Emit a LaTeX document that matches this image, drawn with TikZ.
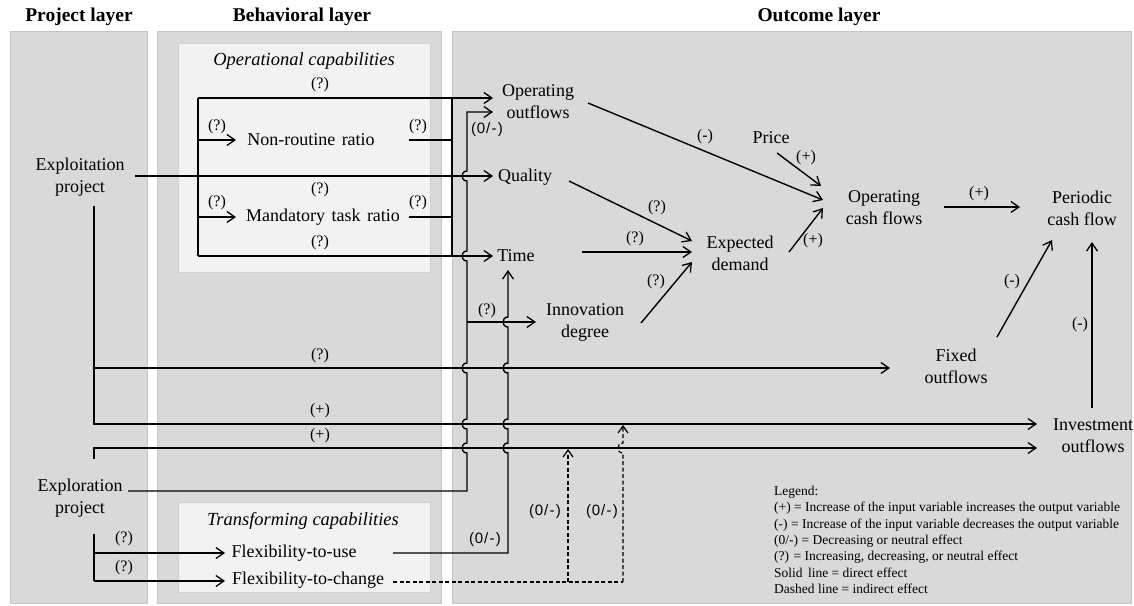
\documentclass[tikz,border=0pt]{standalone}
\usepackage{fontspec}
\setmainfont{Liberation Serif}
\newfontfamily\labsans{Liberation Sans}
\usetikzlibrary{arrows.meta}
\definecolor{panelfill}{HTML}{D9D9D9}
\definecolor{panelline}{HTML}{C4C4C4}
\definecolor{boxfill}{HTML}{F2F2F2}
\definecolor{boxline}{HTML}{D0D0D0}
\newcommand\zmlabel{(\kern0.8pt0\kern0.8pt/\kern1.3pt-\kern1.3pt)}
\begin{document}
\begin{tikzpicture}[x=1pt,y=-1pt,
  ln/.style={line width=1.4pt},
  arr/.style={ln,-{Straight Barb[length=8pt,width=11pt,line width=1.3pt]}},
  dsh/.style={line width=1.2pt,dash pattern=on 4pt off 2.5pt},
  darr/.style={dsh,-{Straight Barb[length=7pt,width=10pt,line width=1.2pt]}},
  nd/.style={font=\fontsize{18}{22}\selectfont,align=center,inner sep=0pt},
  ttl/.style={font=\bfseries\fontsize{19.5}{22}\selectfont,inner sep=0pt},
  captitle/.style={font=\itshape\fontsize{18.5}{22}\selectfont,inner sep=0pt},
  lab/.style={font=\fontsize{16}{17}\selectfont,inner sep=0pt},
  zl/.style={font=\labsans\fontsize{15}{17}\selectfont,inner sep=0pt},
  panel/.style={fill=panelfill,draw=panelline,line width=1pt},
  capbox/.style={fill=boxfill,draw=boxline,line width=1pt}]
\useasboundingbox (0,0) rectangle (1134,605);
% panels
\draw[panel] (10,31) rectangle (147,603);
\draw[panel] (157,31) rectangle (441,603);
\draw[panel] (452,31) rectangle (1131,603);
\draw[capbox] (178,43) rectangle (430,272);
\draw[capbox] (178,502) rectangle (430,592);
% titles
\node[ttl] (t1) at (79,17) {Project layer};
\node[ttl] (t2) at (302,17) {Behavioral layer};
\node[ttl] (t3) at (819,17) {Outcome layer};
\node[captitle] (oc) at (304,61) {Operational capabilities};
\node[captitle] (tc) at (303,521) {Transforming capabilities};
% nodes
\node[nd] (exploit) at (80,177) {Exploitation\\project};
\node[nd] (explore) at (80,498) {Exploration\\project};
\node[nd] (nr) at (311,140) {Non-routine\kern2pt\ ratio};
\node[nd] (mtr) at (323,217) {Mandatory\kern2pt\ task\kern2pt\ ratio};
\node[nd] (fu) at (294,553) {Flexibility-to-use};
\node[nd] (fc) at (308,580) {Flexibility-to-change};
\node[nd] (oo) at (538,102) {Operating\\outflows};
\node[nd] (q) at (525,177) {Quality};
\node[nd] (t) at (516,256) {Time};
\node[nd] (inn) at (585,322) {Innovation\\degree};
\node[nd] (price) at (771,138) {Price};
\node[nd] (ed) at (740,253) {Expected\\demand};
\node[nd] (ocf) at (884,208) {Operating\\cash flows};
\node[nd] (pcf) at (1082,208) {Periodic\\cash flow};
\node[nd] (fo) at (956,366) {Fixed\\outflows};
\node[nd] (io) at (1093,436) {Investment\\outflows};
% operational capabilities bus
\draw[ln] (198,98) -- (198,256);
\draw[arr] (198,98) -- (493,98);
\draw[arr] (198,256) -- (493,256);
\draw[arr] (198,140) -- (236,140);
\draw[arr] (198,217) -- (236,217);
\draw[ln] (409,140) -- (452,140);
\draw[ln] (409,217) -- (452,217);
\draw[ln] (452,98) -- (452,256);
\draw[arr] (135,176) -- (493,176);
% exploitation downwards
\draw[arr] (94,206) -- (94,424) -- (1037,424);
\draw[arr] (94,368) -- (890,368);
% exploration
\draw[arr] (94,459) -- (94,448) -- (1037,448);
\draw[ln] (94,534) -- (94,581);
\draw[arr] (94,581) -- (225,581);
\draw[arr] (94,553) -- (225,553);
% exploration to operating outflows with hops
\draw[arr] (128,491) -- (467,491) -- (467,453)
  .. controls (460.3,453) and (460.3,443) .. (467,443) -- (467,429)
  .. controls (460.3,429) and (460.3,419) .. (467,419) -- (467,373)
  .. controls (460.3,373) and (460.3,363) .. (467,363) -- (467,261)
  .. controls (460.3,261) and (460.3,251) .. (467,251) -- (467,181)
  .. controls (460.3,181) and (460.3,171) .. (467,171) -- (467,112) -- (493,112);
\draw[arr] (467,322) -- (536,322);
% flexibility-to-use to time
\draw[arr] (393,553) -- (508,553) -- (508,453)
  .. controls (501.3,453) and (501.3,443) .. (508,443) -- (508,429)
  .. controls (501.3,429) and (501.3,419) .. (508,419) -- (508,373)
  .. controls (501.3,373) and (501.3,363) .. (508,363) -- (508,327)
  .. controls (501.3,327) and (501.3,317) .. (508,317) -- (508,270);
% flexibility-to-change dashed
\draw[dsh] (393,582) -- (623,582);
\draw[darr] (568,582) -- (568,449);
\draw[darr] (623,582) -- (623,453)
  .. controls (616.3,453) and (616.3,443) .. (623,443) -- (623,425);
% outcome arrows
\draw[arr] (588,103) -- (823,200);
\draw[arr] (777,153) -- (821,186);
\draw[arr] (569,181) -- (692,241);
\draw[arr] (582,252) -- (692,252);
\draw[arr] (641,323) -- (692,262);
\draw[arr] (789,252) -- (823,208);
\draw[arr] (944,207) -- (1020,207);
\draw[arr] (997,337) -- (1052,240);
\draw[arr] (1092,408) -- (1092,242);
% labels
\node[lab] at (320,85) {(?)};
\node[lab] at (217,127) {(?)};
\node[lab] at (418,127) {(?)};
\node[lab] at (320,190) {(?)};
\node[lab] at (217,203) {(?)};
\node[lab] at (418,203) {(?)};
\node[lab] at (320,243) {(?)};
\node[zl] at (487,130) {\zmlabel};
\node[lab] at (487,311) {(?)};
\node[lab] at (320,356) {(?)};
\node[lab] at (320,411) {(+)};
\node[lab] at (320,436) {(+)};
\node[zl] at (485,540) {\zmlabel};
\node[zl] at (545,512) {\zmlabel};
\node[zl] at (602,512) {\zmlabel};
\node[lab] at (124,539) {(?)};
\node[lab] at (124,568) {(?)};
\node[lab] at (705,137) {(-)};
\node[lab] at (806,158) {(+)};
\node[lab] at (657,208) {(?)};
\node[lab] at (635,239) {(?)};
\node[lab] at (656,282) {(?)};
\node[lab] at (813,241) {(+)};
\node[lab] at (979,194) {(+)};
\node[lab] at (1012,282) {(-)};
\node[lab] at (1080,325) {(-)};
% legend
\node[anchor=north west,align=left,inner sep=0pt,font=\fontsize{13.5}{16.3}\selectfont] (leg) at (774,486)
 {Legend:\\(+) = Increase of the input variable increases the output variable\\(-) = Increase of the input variable decreases the output variable\\(0/-) = Decreasing or neutral effect\\(?) = Increasing, decreasing, or neutral effect\\Solid\kern2pt\ line = direct effect\\Dashed line = indirect effect};
\end{tikzpicture}
\end{document}
